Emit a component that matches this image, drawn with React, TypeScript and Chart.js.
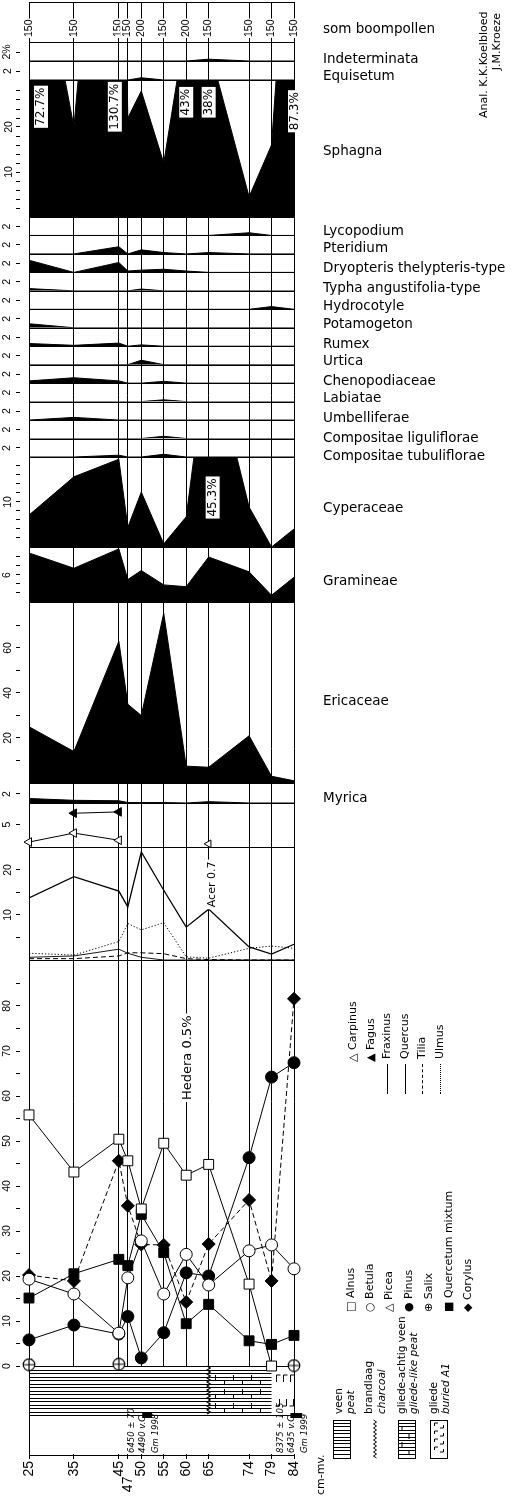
import React, { useEffect, useRef } from 'react';
import { Chart, registerables } from 'chart.js';

// ---------------- data ----------------
const depths = [25, 35, 45, 47, 50, 55, 60, 65, 74, 79, 84];
const depthLabels = ['25', '35', '45', '47', '50', '55', '60', '65', '74', '79', '84'];
const treePollenSum = ['150', '150', '150', '150', '200', '150', '200', '150', '150', '150', '150'];

const indeterminata = [0, 0, 0, 0, 0, 0, 0, 0.4, 0, 0, 0];
const equisetum = [0, 0, 0, 0, 0.5, 0, 0, 0, 0, 0, 0];
const sphagna = [72.7, 20, 130.7, 22, 28, 12, 43, 38, 4.5, 16, 87.3];
const lycopodium = [0, 0, 0, 0, 0, 0, 0, 0, 0.6, 0, 0];
const pteridium = [0, 0, 1.6, 0, 0.9, 0.3, 0, 0.3, 0, 0, 0];
const dryopteris = [2.7, 0, 2.2, 0.3, 0.5, 0.7, 0.3, 0, 0, 0, 0];
const typha = [0.5, 0, 0, 0, 0.4, 0, 0, 0, 0, 0, 0];
const hydrocotyle = [0, 0, 0, 0, 0, 0, 0, 0, 0, 0.6, 0];
const potamogeton = [0.9, 0, 0, 0, 0, 0, 0, 0, 0, 0, 0];
const rumex = [0.6, 0.2, 0.7, 0, 0.3, 0, 0, 0, 0, 0, 0];
const urtica = [0, 0, 0, 0, 1.0, 0, 0, 0, 0, 0, 0];
const chenopodiaceae = [0.5, 1.2, 0.5, 0, 0, 0.4, 0, 0, 0, 0, 0];
const labiatae = [0, 0, 0, 0, 0, 0.4, 0, 0, 0, 0, 0];
const umbelliferae = [0, 0.6, 0, 0, 0, 0, 0, 0, 0, 0, 0];
const compositaeLig = [0, 0, 0, 0, 0, 0.5, 0, 0, 0, 0, 0];
const compositaeTub = [0, 0, 0.4, 0, 0, 0.6, 0, 0, 0, 0, 0];
const cyperaceae = [7.1, 15.6, 19.5, 4.4, 12.2, 0.7, 6.7, 45.3, 8.9, 0, 4];
const gramineae = [10.9, 7.5, 11.8, 5, 7, 3.8, 3.4, 10, 6.7, 1.5, 5.5];
const ericaceae = [25, 14, 63, 35, 30, 75.5, 7.5, 7, 21, 3, 1];
const myrica = [1.0, 0.6, 0.5, 0.1, 0.1, 0.1, 0, 0.3, 0, 0, 0];
const carpinus = [1.1, 3.1, 1.5, null, null, null, null, null, null, null, null];
const fagus = [null, 7.5, 7.8, null, null, null, null, null, null, null, null];
const acer = [null, null, null, null, null, null, null, 0.7, null, null, null];
const fraxinus = [0.6, 0.9, 2.4, 1.5, 0.6, 0, 0, 0, 0, 0, 0];
const quercus = [13.8, 18.5, 15.3, 11.8, 24, 15.5, 7.3, 11.3, 2.9, 1.3, 3.5];
const tilia = [0.3, 0.3, 0.9, 1.6, 1.6, 1.4, 0.3, 0.1, 0, 0, 0];
const ulmus = [1.5, 1.1, 4.1, 8.1, 6.7, 8.3, 0.7, 0.4, 2.6, 3.1, 2.6];
const alnus = [55.8, 43.1, 50.4, 45.6, 34.9, 49.5, 42.4, 44.8, 18.2, 0, null];
const betula = [19.3, 16, 7.3, 19.6, 27.8, 16, 24.8, 18, 25.6, 26.9, 21.6];
const picea = [0.5, null, null, null, null, null, null, null, null, null, null];
const pinus = [5.8, 9.1, 7.1, 11, 1.8, 7.4, 20.7, 20, 46.3, 64.2, 67.4];
const salix = [0.3, null, 0.4, null, null, null, null, null, null, null, 0.1];
const quercetumMixtum = [15.1, 20.5, 23.7, 22.3, 33.7, 25.2, 9.4, 13.7, 5.6, 4.8, 6.8];
const corylus = [20.2, 18.9, 45.6, 35.6, 27, 26.9, 14.2, 27.1, 36.9, 18.9, 81.6];

const smallTaxa = [lycopodium, pteridium, dryopteris, typha, hydrocotyle, potamogeton, rumex, urtica,
  chenopodiaceae, labiatae, umbelliferae, compositaeLig, compositaeTub];

const taxonNames = ['som boompollen', 'Indeterminata', 'Equisetum', 'Sphagna', 'Lycopodium', 'Pteridium',
  'Dryopteris thelypteris-type', 'Typha angustifolia-type', 'Hydrocotyle', 'Potamogeton', 'Rumex', 'Urtica',
  'Chenopodiaceae', 'Labiatae', 'Umbelliferae', 'Compositae liguliflorae', 'Compositae tubuliflorae',
  'Cyperaceae', 'Gramineae', 'Ericaceae', 'Myrica'];

const lithUnits = [
  { from: 25, to: 65, kind: 'peat' },
  { from: 65, to: 79, kind: 'gliedePeat' },
  { from: 79, to: 84, kind: 'gliede' },
];
const charcoalDepths = [65];
const c14Dates = [
  { from: 50.2, to: 52.4, lines: ['6450 ± 70', '4490 v.C.', 'Gm 1998'] },
  { from: 83.2, to: 85.8, lines: ['8375 ± 105', '6435 v.C.', 'Gm 1999'] },
];

// ---------------- layout (not data) ----------------
const FONT = "'DejaVu Sans', sans-serif";
const taxonLabelY = [28, 58, 75, 150, 230, 247, 267, 287, 305, 323, 343, 360, 380, 397, 417, 437, 455, 507, 580, 700, 797];

const SMALL_H = 240 / 13;
const range = (a: number, b: number, s: number) => { const r: number[] = []; for (let v = a; v <= b + 1e-9; v += s) r.push(v); return r; };
type Band = { id: string; h: number; ppu: number; ticks: number[]; labels: Record<string, string>; pad: number };
const bands: Band[] = [
  { id: 'yInd', h: 19, ppu: 4.5, ticks: [2], labels: { '2': '2%' }, pad: 1 },
  { id: 'yEqu', h: 19, ppu: 4.5, ticks: [2], labels: { '2': '2' }, pad: 5 },
  { id: 'ySph', h: 137, ppu: 4.5, ticks: range(2, 28, 2), labels: { '10': '10', '20': '20' }, pad: 1 },
  ...smallTaxa.map((_, i) => ({ id: 'ySm' + i, h: SMALL_H, ppu: 4.5, ticks: [2], labels: { '2': '2' }, pad: 6 })),
  { id: 'yCyp', h: 90, ppu: 4.5, ticks: range(2, 18, 2), labels: { '10': '10' }, pad: 2 },
  { id: 'yGra', h: 55, ppu: 4.5, ticks: range(2, 10, 2), labels: { '6': '6' }, pad: 6 },
  { id: 'yEri', h: 181, ppu: 2.25, ticks: range(10, 70, 10), labels: { '20': '20', '40': '40', '60': '60' }, pad: 2 },
  { id: 'yMyr', h: 20, ppu: 4.5, ticks: [2], labels: { '2': '2' }, pad: 6 },
  { id: 'yCar', h: 44, ppu: 4.5, ticks: [5], labels: { '5': '5' }, pad: 6 },
  { id: 'yLin', h: 113, ppu: 4.5, ticks: [5, 10, 15, 20], labels: { '10': '10', '20': '20' }, pad: 2 },
  { id: 'yTree', h: 406, ppu: 4.5, ticks: range(0, 85, 5), labels: { '0': '0', '10': '10', '20': '20', '30': '30', '40': '40', '50': '50', '60': '60', '70': '70', '80': '80' }, pad: 3 },
  { id: 'yLith', h: 49, ppu: 1, ticks: [], labels: {}, pad: 0 },
  { id: 'yGap', h: 40, ppu: 1, ticks: [], labels: {}, pad: 0 },
];

const notes = [
  { scale: 'ySph', depth: 25, value: 24.5, dx: 12, text: '72.7%', size: 12 },
  { scale: 'ySph', depth: 45, value: 24.5, dx: -4, text: '130.7%', size: 12 },
  { scale: 'ySph', depth: 60, value: 25.5, dx: 0, text: '43%', size: 12 },
  { scale: 'ySph', depth: 65, value: 25.5, dx: 0, text: '38%', size: 12 },
  { scale: 'ySph', depth: 84, value: 23.5, dx: 1, text: '87.3%', size: 12 },
  { scale: 'yCyp', depth: 65, value: 11, dx: 4, text: '45.3%', size: 12 },
  { scale: 'yLin', depth: 65, value: 16.8, dx: 3, text: 'Acer 0.7', size: 11 },
  { scale: 'yTree', depth: 60, value: 68.5, dx: 1, text: 'Hedera 0.5%', size: 13 },
];

function rotLabel(ctx: CanvasRenderingContext2D, text: string, cx: number, cy: number, size: number, bg: boolean) {
  ctx.save();
  ctx.font = `${size}px ${FONT}`;
  const w = ctx.measureText(text).width;
  ctx.translate(cx, cy);
  ctx.rotate(-Math.PI / 2);
  if (bg) { ctx.fillStyle = '#fff'; ctx.fillRect(-w / 2 - 2, -size / 2 - 1, w + 4, size + 2); }
  ctx.fillStyle = '#000';
  ctx.textAlign = 'center';
  ctx.textBaseline = 'middle';
  ctx.fillText(text, 0, 0);
  ctx.restore();
}

// clips every "bandClip" dataset (line AND filler area) to its own band; registered before the Filler
const bandClipPlugin = {
  id: 'bandClip',
  beforeDatasetDraw(chart: any, args: any) {
    const ds = chart.data.datasets[args.index];
    if (!ds || !ds.bandClip) return;
    const s = chart.scales[ds.yAxisID];
    const ca = chart.chartArea;
    chart.ctx.save();
    chart.ctx.beginPath();
    chart.ctx.rect(ca.left, s.top, ca.right - ca.left + 1, s.bottom - s.top);
    chart.ctx.clip();
  },
  afterDatasetDraw(chart: any, args: any) {
    const ds = chart.data.datasets[args.index];
    if (ds && ds.bandClip) chart.ctx.restore();
  },
};
Chart.register(bandClipPlugin);
Chart.register(...registerables);

const decorPlugin = {
  id: 'decor',
  beforeDatasetsDraw(chart: any) {
    const { ctx, chartArea: ca, scales } = chart;
    const xs = scales.x;
    ctx.save();
    ctx.strokeStyle = '#000';
    ctx.lineWidth = 1;
    const hline = (y: number, x0 = ca.left, x1 = ca.right) => {
      const yy = Math.round(y) + 0.5;
      ctx.beginPath(); ctx.moveTo(x0, yy); ctx.lineTo(x1, yy); ctx.stroke();
    };
    bands.forEach((b) => {
      if (b.id === 'yGap') return;
      const s = scales[b.id];
      hline(s.top); hline(s.bottom);
    });
    hline(2);
    const ls = scales.yLith;
    const top = Math.round(ls.top), bot = Math.round(ls.bottom);
    ctx.fillStyle = '#fff';
    ctx.fillRect(ca.left + 1, top + 1, ca.right - ca.left + 2, bot - top - 1);
    const gs = scales.yGap;
    ctx.fillRect(ca.left + 1, Math.round(gs.top) + 1, ca.right - ca.left + 4, Math.round(gs.bottom) - Math.round(gs.top) - 2);
    lithUnits.forEach((u) => {
      const x0 = xs.getPixelForValue(u.from), x1 = xs.getPixelForValue(u.to);
      if (u.kind === 'peat' || u.kind === 'gliedePeat') {
        for (let y = top + 3.5; y < bot - 1; y += 3.5) { ctx.beginPath(); ctx.moveTo(x0, Math.round(y) + 0.5); ctx.lineTo(x1, Math.round(y) + 0.5); ctx.stroke(); }
      }
      if (u.kind === 'gliedePeat') {
        let k = 0;
        for (let x = x0 + 6; x < x1 - 3; x += 9) {
          for (let r = 0; r < 3; r++) {
            const y = top + 9 + r * 14 + ((k + r) % 2) * 5;
            ctx.beginPath(); ctx.moveTo(Math.round(x) + 0.5, y); ctx.lineTo(Math.round(x) + 0.5, y + 5); ctx.stroke();
          }
          k++;
        }
      }
      if (u.kind === 'gliede') {
        for (let x = x0 + 4; x < x1 - 3; x += 7) {
          const xx = Math.round(x) + 0.5;
          ctx.beginPath(); ctx.moveTo(xx, top + 16); ctx.lineTo(xx, top + 9); ctx.lineTo(xx + 4, top + 9); ctx.stroke();
          ctx.beginPath(); ctx.moveTo(xx + 3, bot - 16); ctx.lineTo(xx + 3, bot - 9); ctx.lineTo(xx - 1, bot - 9); ctx.stroke();
        }
      }
    });
    const lx0 = xs.getPixelForValue(depths[0]), lx1 = xs.getPixelForValue(depths[depths.length - 1]);
    ctx.strokeRect(Math.round(lx0) + 0.5, top + 0.5, Math.round(lx1 - lx0), bot - top);
    charcoalDepths.forEach((d) => {
      const x = xs.getPixelForValue(d);
      ctx.beginPath();
      let i = 0;
      for (let y = top; y <= bot; y += 2) { ctx.lineTo(x + (i % 2 ? 1.5 : -1.5), y); i++; }
      ctx.lineWidth = 1.3; ctx.stroke(); ctx.lineWidth = 1;
    });
    ctx.restore();
  },
  afterDatasetsDraw(chart: any) {
    const { ctx, scales } = chart;
    const xs = scales.x;
    notes.forEach((n) => {
      const s = scales[n.scale];
      rotLabel(ctx, n.text, xs.getPixelForValue(n.depth) + n.dx, s.getPixelForValue(n.value), n.size, true);
    });
    const ls = scales.yLith, gs = scales.yGap;
    const offs = [-15, -4, 9];
    c14Dates.forEach((c) => {
      const x0 = xs.getPixelForValue(c.from), x1 = xs.getPixelForValue(c.to);
      ctx.fillStyle = '#000';
      ctx.fillRect(x0, ls.bottom - 2, x1 - x0, 5);
      const cx = (x0 + x1) / 2;
      c.lines.forEach((t, i) => {
        ctx.save();
        ctx.font = `italic 8.5px ${FONT}`;
        ctx.translate(cx + offs[i], gs.bottom - 2);
        ctx.rotate(-Math.PI / 2);
        ctx.textAlign = 'left'; ctx.textBaseline = 'middle'; ctx.fillStyle = '#000';
        ctx.fillText(t, 0, 0);
        ctx.restore();
      });
    });
  },
};

function makeSalixIcon() {
  const c = document.createElement('canvas');
  c.width = 14; c.height = 14;
  const g = c.getContext('2d')!;
  g.fillStyle = '#fff';
  g.beginPath(); g.arc(7, 7, 5.8, 0, Math.PI * 2); g.fill();
  g.strokeStyle = '#000'; g.lineWidth = 1.2; g.stroke();
  g.beginPath(); g.moveTo(1.2, 7); g.lineTo(12.8, 7); g.moveTo(7, 1.2); g.lineTo(7, 12.8); g.stroke();
  return c;
}

function buildConfig(salixIcon: HTMLCanvasElement) {
  const pts = (vals: (number | null)[]) => depths.map((d, i) => ({ x: d, y: vals[i] }));
  const area = (vals: (number | null)[], yAxisID: string) => ({
    data: pts(vals), yAxisID, xAxisID: 'x', fill: 'origin', backgroundColor: '#000', borderColor: '#000',
    borderWidth: 1, pointRadius: 0, clip: false, bandClip: true,
  });
  const line = (vals: (number | null)[], yAxisID: string, extra: any) => ({
    data: pts(vals), yAxisID, xAxisID: 'x', fill: false, borderColor: '#000', borderWidth: 1,
    pointRadius: 0, clip: false, pointBorderColor: '#000', pointBorderWidth: 1, ...extra,
  });
  const datasets: any[] = [
    line(salix, 'yTree', { showLine: false, pointStyle: salixIcon, pointRadius: 7 }),
    line(picea, 'yTree', { showLine: false, pointStyle: 'triangle', pointRotation: -90, pointRadius: 5.5, pointBackgroundColor: '#fff' }),
    line(alnus, 'yTree', { pointStyle: 'rect', pointRadius: 7, pointBackgroundColor: '#fff' }),
    line(betula, 'yTree', { pointStyle: 'circle', pointRadius: 6, pointBackgroundColor: '#fff' }),
    line(quercetumMixtum, 'yTree', { pointStyle: 'rect', pointRadius: 7, pointBackgroundColor: '#000' }),
    line(corylus, 'yTree', { pointStyle: 'rectRot', pointRadius: 6.5, pointBackgroundColor: '#000', borderDash: [5, 3] }),
    line(pinus, 'yTree', { pointStyle: 'circle', pointRadius: 6, pointBackgroundColor: '#000' }),
    line(quercus, 'yLin', { borderWidth: 1.3, bandClip: true }),
    line(fraxinus, 'yLin', { borderWidth: 0.9, bandClip: true }),
    line(tilia, 'yLin', { borderDash: [5, 3], bandClip: true }),
    line(ulmus, 'yLin', { borderDash: [1.2, 2], bandClip: true }),
    line(acer, 'yCar', { showLine: false, pointStyle: 'triangle', pointRotation: -90, pointRadius: 4.5, pointBackgroundColor: '#fff' }),
    line(carpinus, 'yCar', { pointStyle: 'triangle', pointRotation: -90, pointRadius: 5, pointBackgroundColor: '#fff' }),
    line(fagus, 'yCar', { pointStyle: 'triangle', pointRotation: -90, pointRadius: 5, pointBackgroundColor: '#000' }),
    area(indeterminata, 'yInd'),
    area(equisetum, 'yEqu'),
    area(sphagna, 'ySph'),
    ...smallTaxa.map((v, i) => area(v, 'ySm' + i)),
    area(cyperaceae, 'yCyp'),
    area(gramineae, 'yGra'),
    area(ericaceae, 'yEri'),
    area(myrica, 'yMyr'),
  ];

  const scales: any = {
    x: {
      type: 'linear', position: 'bottom', min: depths[0], max: depths[depths.length - 1],
      afterFit: (s: any) => { s.height = 42; },
      afterBuildTicks: (s: any) => { s.ticks = depths.map((v) => ({ value: v })); },
      ticks: {
        autoSkip: false, minRotation: 90, maxRotation: 90, padding: 2, color: '#000',
        font: { size: 14 },
        callback: (_v: any, i: number) => (i === 3 ? depthLabels[i] + '    ' : depthLabels[i]),
      },
      grid: { drawOnChartArea: true, color: '#000', lineWidth: 1, tickLength: 4, tickColor: '#000' },
      border: { display: true, color: '#000' },
    },
    xTop: {
      type: 'linear', position: 'top', min: depths[0], max: depths[depths.length - 1],
      afterFit: (s: any) => { s.height = 42; },
      afterBuildTicks: (s: any) => { s.ticks = depths.map((v) => ({ value: v })); },
      ticks: {
        autoSkip: false, minRotation: 90, maxRotation: 90, padding: -35, color: '#000',
        font: { size: 10.5 }, labelOffset: 6,
        showLabelBackdrop: true, backdropColor: '#fff', backdropPadding: 1,
        callback: (_v: any, i: number) => treePollenSum[i],
      },
      grid: { drawOnChartArea: false, tickLength: 40, color: '#000', tickColor: '#000' },
      border: { display: true, color: '#000' },
    },
  };
  bands.forEach((b, i) => {
    const has = b.ticks.length > 0;
    scales[b.id] = {
      type: 'linear', position: 'left', stack: 'diagram', stackWeight: b.h, weight: bands.length - i,
      min: 0, max: b.h / b.ppu,
      afterFit: (s: any) => { s.width = 29; },
      afterBuildTicks: (s: any) => { s.ticks = b.ticks.map((v) => ({ value: v })); },
      ticks: {
        display: has, autoSkip: false, minRotation: 90, maxRotation: 90, crossAlign: 'center',
        padding: b.pad, color: '#000', font: { size: 10.5 },
        callback: (v: any) => b.labels[String(v)] ?? '',
      },
      grid: {
        display: has, drawOnChartArea: false, drawTicks: true, tickLength: 13,
        tickBorderDash: [4, 9], color: '#000', tickColor: '#000', tickWidth: 1,
      },
      border: { display: true, color: '#000', width: 1 },
    };
  });

  return {
    type: 'line',
    data: { datasets },
    options: {
      animation: false, responsive: false, maintainAspectRatio: false, devicePixelRatio: 1,
      layout: { padding: { left: 0, right: 218, top: 0, bottom: 0 } },
      plugins: { legend: { display: false }, tooltip: { enabled: false } },
      elements: { line: { tension: 0 } },
      scales,
    },
    plugins: [decorPlugin],
  };
}

// ---------------- html helpers ----------------
const RotText = ({ cx, y, size = 11, italic = false, children, width, align }: any) => {
  const L = Math.round(size * 1.2);
  return (
    <div style={{
      position: 'absolute', left: cx - L / 2, top: y, transform: 'rotate(-90deg)', transformOrigin: '0 0',
      whiteSpace: 'nowrap', fontFamily: FONT, fontSize: size, lineHeight: `${L}px`,
      fontStyle: italic ? 'italic' : 'normal', color: '#000', width, textAlign: align,
    }}>{children}</div>
  );
};

const LegLine = ({ dash }: { dash: string }) => (
  <span style={{ display: 'inline-block', width: 30, borderTop: `1px ${dash} #000`, verticalAlign: 'middle', marginRight: 5 }} />
);

const hatch = (x: number, y: number, w: number, h: number) => {
  const ls = [] as any[];
  for (let yy = y + 3; yy < y + h - 1; yy += 3.4) ls.push(<line key={yy} x1={x} x2={x + w} y1={Math.round(yy) + 0.5} y2={Math.round(yy) + 0.5} stroke="#000" strokeWidth={1} />);
  return ls;
};

export default function App() {
  const canvasRef = useRef<HTMLCanvasElement | null>(null);
  useEffect(() => {
    const canvas = canvasRef.current;
    if (!canvas) return;
    const chart = new Chart(canvas, buildConfig(makeSalixIcon()) as any);
    return () => chart.destroy();
  }, []);

  const lgTop = 1420, lgH = 38, lgText = 1414;
  return (
    <div style={{ position: 'absolute', left: 0, top: 0, width: 512, height: 1497, overflow: 'hidden', background: '#fff' }}>
      <canvas ref={canvasRef} width={512} height={1497} style={{ position: 'absolute', left: 0, top: 0, width: 512, height: 1497 }} />
      {taxonNames.map((t, i) => (
        <div key={t} style={{ position: 'absolute', left: 323, top: taxonLabelY[i] - 8, fontFamily: FONT, fontSize: 13.5, lineHeight: '16px', whiteSpace: 'nowrap', color: '#000' }}>{t}</div>
      ))}
      <RotText cx={483} y={118} size={11} width={105} align="right">
        Anal. K.K.Koelbloed<br />J.M.Kroeze
      </RotText>
      <RotText cx={352} y={1062} size={11}>△ Carpinus</RotText>
      <RotText cx={370} y={1062} size={11}>▲ Fagus</RotText>
      <RotText cx={386} y={1094} size={11}><LegLine dash="solid" />Fraxinus</RotText>
      <RotText cx={404} y={1094} size={11}><LegLine dash="solid" />Quercus</RotText>
      <RotText cx={421} y={1094} size={11}><LegLine dash="dashed" />Tilia</RotText>
      <RotText cx={439} y={1094} size={11}><LegLine dash="dotted" />Ulmus</RotText>
      <RotText cx={350} y={1312} size={11}>□ Alnus</RotText>
      <RotText cx={369} y={1312} size={11}>○ Betula</RotText>
      <RotText cx={388} y={1312} size={11}>△ Picea</RotText>
      <RotText cx={408} y={1312} size={11}>● Pinus</RotText>
      <RotText cx={428} y={1312} size={11}>⊕ Salix</RotText>
      <RotText cx={448} y={1312} size={11}>■ Quercetum mixtum</RotText>
      <RotText cx={467} y={1312} size={11}>◆ Corylus</RotText>
      <svg style={{ position: 'absolute', left: 0, top: 0 }} width={512} height={1497}>
        <rect x={333.5} y={lgTop + 0.5} width={17} height={lgH} fill="#fff" stroke="#000" />
        {hatch(333.5, lgTop, 17, lgH)}
        <polyline fill="none" stroke="#000" strokeWidth={1} points={Array.from({ length: 20 }, (_, i) => `${375 + (i % 2 ? 1.5 : -1.5)},${lgTop + i * 2}`).join(' ')} />
        <rect x={398.5} y={lgTop + 0.5} width={17} height={lgH} fill="#fff" stroke="#000" />
        {hatch(398.5, lgTop, 17, lgH)}
        {[0, 1, 2, 3].map((k) => <line key={k} x1={402 + (k % 2) * 7} x2={402 + (k % 2) * 7} y1={lgTop + 6 + k * 8} y2={lgTop + 11 + k * 8} stroke="#000" />)}
        <rect x={430.5} y={lgTop + 0.5} width={17} height={lgH} fill="#fff" stroke="#000" />
        {[0, 1, 2, 3].map((k) => <polyline key={'a' + k} fill="none" stroke="#000" points={`${434.5},${lgTop + 6 + k * 8} ${434.5},${lgTop + 3 + k * 8} ${438},${lgTop + 3 + k * 8}`} />)}
        {[0, 1, 2, 3].map((k) => <polyline key={'b' + k} fill="none" stroke="#000" points={`${443.5},${lgTop + 5 + k * 8} ${443.5},${lgTop + 8 + k * 8} ${440},${lgTop + 8 + k * 8}`} />)}
      </svg>
      <RotText cx={338} y={lgText} size={10.5}>veen</RotText>
      <RotText cx={350} y={lgText} size={10.5} italic>peat</RotText>
      <RotText cx={368} y={lgText} size={10.5}>brandlaag</RotText>
      <RotText cx={381} y={lgText} size={10.5} italic>charcoal</RotText>
      <RotText cx={401} y={lgText} size={10.5}>gliede-achtig veen</RotText>
      <RotText cx={413} y={lgText} size={10.5} italic>gliede-like peat</RotText>
      <RotText cx={433} y={lgText} size={10.5}>gliede</RotText>
      <RotText cx={445} y={lgText} size={10.5} italic>buried A1</RotText>
      <RotText cx={320} y={1495} size={11}>cm-mv.</RotText>
    </div>
  );
}
